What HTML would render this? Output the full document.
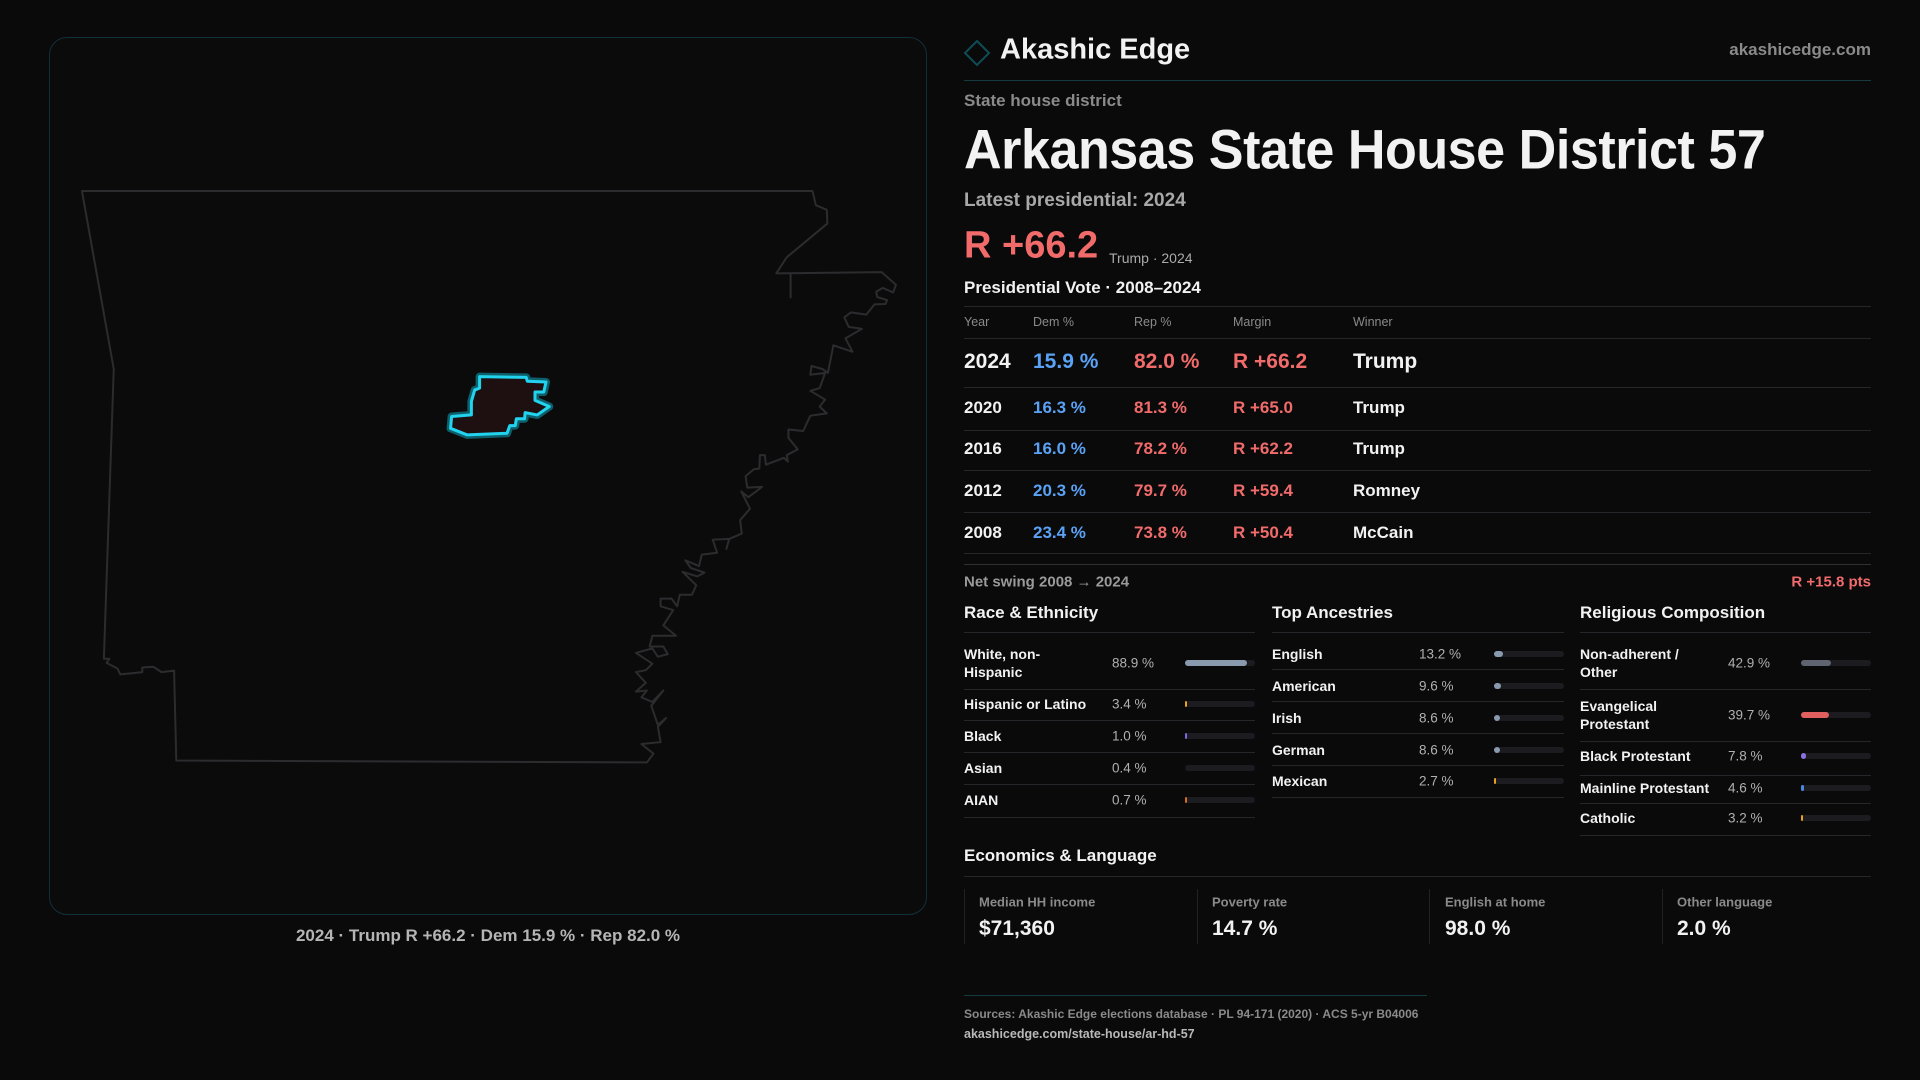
<!DOCTYPE html>
<html><head><meta charset="utf-8"><style>
*{margin:0;padding:0;box-sizing:border-box}
body{width:1920px;height:1080px;background:#0a0a0b;font-family:"Liberation Sans",sans-serif;color:#f2f2f2;position:relative;overflow:hidden}
.a{position:absolute;white-space:nowrap}
.c{transform:translateY(-50%)}
.g{color:#9a9a9a}
.red{color:#f26b6b}.blue{color:#5aa2f5}
.rule{position:absolute;height:1px;background:#26262a}
.bar{position:absolute;height:6px;border-radius:3px;background:#1c1c20;width:70px}
.bar i{position:absolute;left:0;top:0;height:6px;border-radius:3px}
.lab{font-size:14px;font-weight:bold;line-height:18px}
.val{font-size:13.5px;color:#b0b0b0}
</style></head><body>
<div class="a" style="left:49px;top:37px;width:878px;height:878px;border:1px solid #113038;border-radius:18px;background:#0b0b0c"></div>
<svg class="a" style="left:0;top:0" width="1920" height="1080">
<g transform="translate(60,170) scale(0.5485,0.3827)">
<path fill="none" stroke="#2c2c2f" stroke-width="2" vector-effect="non-scaling-stroke" stroke-linejoin="round" d="M40,55 L1372,55 L1378,92 L1398,104 L1399,140 L1325,228 L1306,270 L1498,267 L1524,300 L1519,320 L1500,308 L1488,318 L1490,332 L1508,340 L1505,350 L1485,351 L1470,378 L1442,372 L1430,385 L1438,410 L1462,415 L1432,440 L1445,475 L1410,458 L1400,530 L1390,520 L1370,512 L1368,535 L1395,530 L1385,570 L1368,577 L1395,600 L1385,618 L1398,636 L1368,642 L1355,682 L1328,678 L1328,700 L1345,730 L1325,745 L1327,762 L1320,752 L1287,770 L1285,745 L1276,745 L1275,780 L1265,782 L1250,800 L1253,830 L1280,828 L1255,855 L1242,840 L1258,885 L1240,915 L1243,950 L1220,964 L1215,990 L1220,964 L1190,966 L1198,1000 L1170,1005 L1165,1035 L1140,1020 L1150,1040 L1175,1052 L1162,1062 L1135,1050 L1160,1085 L1152,1110 L1130,1110 L1125,1140 L1115,1120 L1095,1120 L1095,1140 L1118,1150 L1100,1190 L1123,1217 L1080,1217 L1075,1245 L1100,1245 L1108,1265 L1090,1272 L1080,1250 L1050,1262 L1080,1290 L1068,1307 L1050,1312 L1068,1340 L1050,1363 L1070,1360 L1060,1378 L1080,1390 L1100,1360 L1078,1400 L1090,1450 L1105,1432 L1090,1455 L1095,1495 L1060,1500 L1082,1525 L1070,1548 L212,1543 L208,1308 L185,1312 L170,1298 L150,1300 L150,1312 L110,1318 L105,1303 L85,1288 L90,1277 L80,1277 L98,520 Z M1332,270 L1332,335"/>
<path fill="#1e1010" stroke="#0e5f6c" stroke-width="8" vector-effect="non-scaling-stroke" stroke-linejoin="round" d="M765,540 L850,542 L852,552 L886,554 L882,580 L866,580 L866,602 L892,618 L870,640 L848,634 L847,650 L832,650 L830,668 L820,668 L815,688 L742,692 L712,675 L714,644 L750,640 L750,605 L756,575 L765,570 Z"/>
<path fill="#1e1010" stroke="#22d3ee" stroke-width="3" vector-effect="non-scaling-stroke" stroke-linejoin="round" d="M765,540 L850,542 L852,552 L886,554 L882,580 L866,580 L866,602 L892,618 L870,640 L848,634 L847,650 L832,650 L830,668 L820,668 L815,688 L742,692 L712,675 L714,644 L750,640 L750,605 L756,575 L765,570 Z"/>
</g>
<path d="M977,41 L989,53 L977,65 L965,53 Z" fill="none" stroke="#0f4c55" stroke-width="2"/>
</svg>
<div class="a c" style="left:0;width:976px;text-align:center;top:936px;font-size:17px;color:#b5b5b5;font-weight:bold">2024 · Trump R +66.2 · Dem 15.9 % · Rep 82.0 %</div>

<div class="a c" style="left:1000px;top:50px;font-size:29px;font-weight:bold">Akashic Edge</div>
<div class="a c g" style="right:49px;top:50px;font-size:17px;font-weight:bold;color:#8a8a8a">akashicedge.com</div>
<div class="rule" style="left:964px;width:907px;top:80px;background:#153a40"></div>
<div class="a c g" style="left:964px;top:101px;font-size:17px;font-weight:bold;color:#8a8a8a">State house district</div>
<div class="a c" style="left:964px;top:149px;font-size:56px;font-weight:bold;transform:translateY(-50%) scaleX(0.93);transform-origin:left center;letter-spacing:-0.5px">Arkansas State House District 57</div>
<div class="a c" style="left:964px;top:201px;font-size:19px;font-weight:bold;color:#a8a8a8">Latest presidential: 2024</div>
<div class="a c red" style="left:964px;top:246px;font-size:38px;font-weight:bold">R +66.2</div>
<div class="a c" style="left:1109px;top:258px;font-size:14px;color:#aaa">Trump · 2024</div>
<div class="a c" style="left:964px;top:288px;font-size:17px;font-weight:bold">Presidential Vote · 2008–2024</div>
<div class="rule" style="left:964px;width:907px;top:306px"></div>
<div class="a c" style="left:964px;top:322px;font-size:12.5px;color:#8a8a8a">Year</div>
<div class="a c" style="left:1033px;top:322px;font-size:12.5px;color:#8a8a8a">Dem %</div>
<div class="a c" style="left:1134px;top:322px;font-size:12.5px;color:#8a8a8a">Rep %</div>
<div class="a c" style="left:1233px;top:322px;font-size:12.5px;color:#8a8a8a">Margin</div>
<div class="a c" style="left:1353px;top:322px;font-size:12.5px;color:#8a8a8a">Winner</div>
<div class="rule" style="left:964px;width:907px;top:338px"></div>
<div style="font-weight:bold;font-size:21px">
<div class="a c" style="left:964px;top:362px">2024</div><div class="a c blue" style="left:1033px;top:362px">15.9 %</div><div class="a c red" style="left:1134px;top:362px">82.0 %</div><div class="a c red" style="left:1233px;top:362px">R +66.2</div><div class="a c" style="left:1353px;top:362px">Trump</div>
</div>
<div class="rule" style="left:964px;width:907px;top:387px"></div>
<div style="font-weight:bold;font-size:17px">
<div class="a c" style="left:964px;top:408px">2020</div><div class="a c blue" style="left:1033px;top:408px">16.3 %</div><div class="a c red" style="left:1134px;top:408px">81.3 %</div><div class="a c red" style="left:1233px;top:408px">R +65.0</div><div class="a c" style="left:1353px;top:408px">Trump</div>
<div class="a c" style="left:964px;top:449px">2016</div><div class="a c blue" style="left:1033px;top:449px">16.0 %</div><div class="a c red" style="left:1134px;top:449px">78.2 %</div><div class="a c red" style="left:1233px;top:449px">R +62.2</div><div class="a c" style="left:1353px;top:449px">Trump</div>
<div class="a c" style="left:964px;top:491px">2012</div><div class="a c blue" style="left:1033px;top:491px">20.3 %</div><div class="a c red" style="left:1134px;top:491px">79.7 %</div><div class="a c red" style="left:1233px;top:491px">R +59.4</div><div class="a c" style="left:1353px;top:491px">Romney</div>
<div class="a c" style="left:964px;top:533px">2008</div><div class="a c blue" style="left:1033px;top:533px">23.4 %</div><div class="a c red" style="left:1134px;top:533px">73.8 %</div><div class="a c red" style="left:1233px;top:533px">R +50.4</div><div class="a c" style="left:1353px;top:533px">McCain</div>
</div>
<div class="rule" style="left:964px;width:907px;top:430px"></div>
<div class="rule" style="left:964px;width:907px;top:470px"></div>
<div class="rule" style="left:964px;width:907px;top:512px"></div>
<div class="rule" style="left:964px;width:907px;top:553px"></div>
<div class="rule" style="left:964px;width:907px;top:564px;background:#303034"></div>
<div class="a c" style="left:964px;top:582px;font-size:15px;color:#9a9a9a;font-weight:bold">Net swing 2008 → 2024</div>
<div class="a c red" style="right:49px;top:582px;font-size:15px;font-weight:bold">R +15.8 pts</div>

<div class="a c" style="left:964px;top:613px;font-size:17px;font-weight:bold">Race &amp; Ethnicity</div>
<div class="a c" style="left:1272px;top:613px;font-size:17px;font-weight:bold">Top Ancestries</div>
<div class="a c" style="left:1580px;top:613px;font-size:17px;font-weight:bold">Religious Composition</div>
<div class="rule" style="left:964px;width:291px;top:632px"></div>
<div class="rule" style="left:1272px;width:292px;top:632px"></div>
<div class="rule" style="left:1580px;width:291px;top:632px"></div>

<div class="a c lab" style="left:964px;top:663px">White, non-<br>Hispanic</div><div class="a c val" style="left:1112px;top:663px">88.9 %</div><div class="bar" style="left:1185px;top:660px"><i style="width:62px;background:#8a9aae"></i></div>
<div class="rule" style="left:964px;width:291px;top:689px"></div>
<div class="a c lab" style="left:964px;top:704px">Hispanic or Latino</div><div class="a c val" style="left:1112px;top:704px">3.4 %</div><div class="bar" style="left:1185px;top:701px"><i style="width:2px;background:#e8a020"></i></div>
<div class="rule" style="left:964px;width:291px;top:720px"></div>
<div class="a c lab" style="left:964px;top:736px">Black</div><div class="a c val" style="left:1112px;top:736px">1.0 %</div><div class="bar" style="left:1185px;top:733px"><i style="width:2px;background:#7a6ae0"></i></div>
<div class="rule" style="left:964px;width:291px;top:752px"></div>
<div class="a c lab" style="left:964px;top:768px">Asian</div><div class="a c val" style="left:1112px;top:768px">0.4 %</div><div class="bar" style="left:1185px;top:765px"></div>
<div class="rule" style="left:964px;width:291px;top:784px"></div>
<div class="a c lab" style="left:964px;top:800px">AIAN</div><div class="a c val" style="left:1112px;top:800px">0.7 %</div><div class="bar" style="left:1185px;top:797px"><i style="width:2px;background:#d07020"></i></div>
<div class="rule" style="left:964px;width:291px;top:817px"></div>

<div class="a c lab" style="left:1272px;top:654px">English</div><div class="a c val" style="left:1419px;top:654px">13.2 %</div><div class="bar" style="left:1494px;top:651px"><i style="width:9px;background:#8a9aae"></i></div>
<div class="rule" style="left:1272px;width:292px;top:669px"></div>
<div class="a c lab" style="left:1272px;top:686px">American</div><div class="a c val" style="left:1419px;top:686px">9.6 %</div><div class="bar" style="left:1494px;top:683px"><i style="width:7px;background:#8a9aae"></i></div>
<div class="rule" style="left:1272px;width:292px;top:701px"></div>
<div class="a c lab" style="left:1272px;top:718px">Irish</div><div class="a c val" style="left:1419px;top:718px">8.6 %</div><div class="bar" style="left:1494px;top:715px"><i style="width:6px;background:#8a9aae"></i></div>
<div class="rule" style="left:1272px;width:292px;top:733px"></div>
<div class="a c lab" style="left:1272px;top:750px">German</div><div class="a c val" style="left:1419px;top:750px">8.6 %</div><div class="bar" style="left:1494px;top:747px"><i style="width:6px;background:#8a9aae"></i></div>
<div class="rule" style="left:1272px;width:292px;top:765px"></div>
<div class="a c lab" style="left:1272px;top:781px">Mexican</div><div class="a c val" style="left:1419px;top:781px">2.7 %</div><div class="bar" style="left:1494px;top:778px"><i style="width:2px;background:#e8a020"></i></div>
<div class="rule" style="left:1272px;width:292px;top:797px"></div>

<div class="a c lab" style="left:1580px;top:663px">Non-adherent /<br>Other</div><div class="a c val" style="left:1728px;top:663px">42.9 %</div><div class="bar" style="left:1801px;top:660px"><i style="width:30px;background:#5e6470"></i></div>
<div class="rule" style="left:1580px;width:291px;top:689px"></div>
<div class="a c lab" style="left:1580px;top:715px">Evangelical<br>Protestant</div><div class="a c val" style="left:1728px;top:715px">39.7 %</div><div class="bar" style="left:1801px;top:712px"><i style="width:28px;background:#e06060"></i></div>
<div class="rule" style="left:1580px;width:291px;top:741px"></div>
<div class="a c lab" style="left:1580px;top:756px">Black Protestant</div><div class="a c val" style="left:1728px;top:756px">7.8 %</div><div class="bar" style="left:1801px;top:753px"><i style="width:5px;background:#8a70e0"></i></div>
<div class="rule" style="left:1580px;width:291px;top:775px"></div>
<div class="a c lab" style="left:1580px;top:788px">Mainline Protestant</div><div class="a c val" style="left:1728px;top:788px">4.6 %</div><div class="bar" style="left:1801px;top:785px"><i style="width:3px;background:#4a88e0"></i></div>
<div class="rule" style="left:1580px;width:291px;top:803px"></div>
<div class="a c lab" style="left:1580px;top:818px">Catholic</div><div class="a c val" style="left:1728px;top:818px">3.2 %</div><div class="bar" style="left:1801px;top:815px"><i style="width:2px;background:#e8a020"></i></div>
<div class="rule" style="left:1580px;width:291px;top:835px"></div>

<div class="a c" style="left:964px;top:856px;font-size:17px;font-weight:bold">Economics &amp; Language</div>
<div class="rule" style="left:964px;width:907px;top:876px"></div>
<div class="a" style="left:964px;top:889px;width:1px;height:55px;background:#222226"></div>
<div class="a" style="left:1197px;top:889px;width:1px;height:55px;background:#222226"></div>
<div class="a" style="left:1429px;top:889px;width:1px;height:55px;background:#222226"></div>
<div class="a" style="left:1662px;top:889px;width:1px;height:55px;background:#222226"></div>
<div class="a c" style="left:979px;top:902px;font-size:13px;color:#8a8a8a;font-weight:bold">Median HH income</div>
<div class="a c" style="left:979px;top:929px;font-size:21px;font-weight:bold">$71,360</div>
<div class="a c" style="left:1212px;top:902px;font-size:13px;color:#8a8a8a;font-weight:bold">Poverty rate</div>
<div class="a c" style="left:1212px;top:929px;font-size:21px;font-weight:bold">14.7 %</div>
<div class="a c" style="left:1445px;top:902px;font-size:13px;color:#8a8a8a;font-weight:bold">English at home</div>
<div class="a c" style="left:1445px;top:929px;font-size:21px;font-weight:bold">98.0 %</div>
<div class="a c" style="left:1677px;top:902px;font-size:13px;color:#8a8a8a;font-weight:bold">Other language</div>
<div class="a c" style="left:1677px;top:929px;font-size:21px;font-weight:bold">2.0 %</div>

<div class="rule" style="left:964px;width:463px;top:995px;background:#153a40"></div>
<div class="a c" style="left:964px;top:1014px;font-size:12px;color:#8a8a8a;font-weight:bold">Sources: Akashic Edge elections database · PL 94-171 (2020) · ACS 5-yr B04006</div>
<div class="a c" style="left:964px;top:1034px;font-size:12.5px;color:#b8b8b8;font-weight:bold">akashicedge.com/state-house/ar-hd-57</div>
</body></html>
